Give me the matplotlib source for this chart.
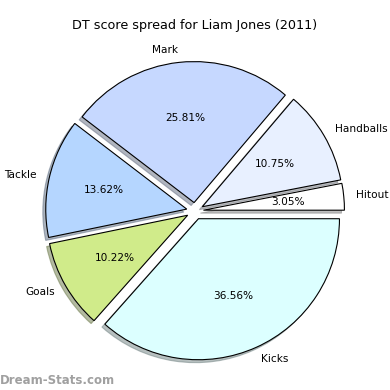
import matplotlib
matplotlib.use('Agg')
import matplotlib.pyplot as plt

# data
labels = ['Hitout', 'Handballs', 'Mark', 'Tackle', 'Goals', 'Kicks']
values = [3.05, 10.75, 25.81, 13.62, 10.22, 36.56]
colors = ['#ffffff', '#e8f0ff', '#c6d8ff', '#b5d6ff', '#d0eb8a', '#dcffff']
explode = [0.06, 0.06, 0.06, 0.06, 0.06, 0.06]

fig = plt.figure(figsize=(3.9, 3.9), dpi=100)
ax = fig.add_axes([0, 0, 1, 1])

ax.pie(values, labels=labels, colors=colors, explode=explode,
       autopct='%.2f%%', startangle=0,
       shadow={'ox': -0.015, 'oy': -0.015, 'shade': 0.5},
       wedgeprops={'edgecolor': 'black', 'linewidth': 0.8},
       textprops={'fontsize': 7.6}, labeldistance=1.09)

# place pie so centre sits near (195, 211) px with radius ~141 px
s = 141.0
ax.set_xlim(-195 / s, 195 / s)
ax.set_ylim(-179 / s, 211 / s)
ax.set_aspect('equal')
ax.axis('off')

fig.text(0.5, 0.935, 'DT score spread for Liam Jones (2011)', ha='center',
         va='center', fontsize=9.2)
fig.text(0.0, 0.025, 'Dream-Stats.com', ha='left', va='center',
         fontsize=8.5, color='#a0a0a0', fontweight='bold')

plt.savefig('out.png', dpi=100)
